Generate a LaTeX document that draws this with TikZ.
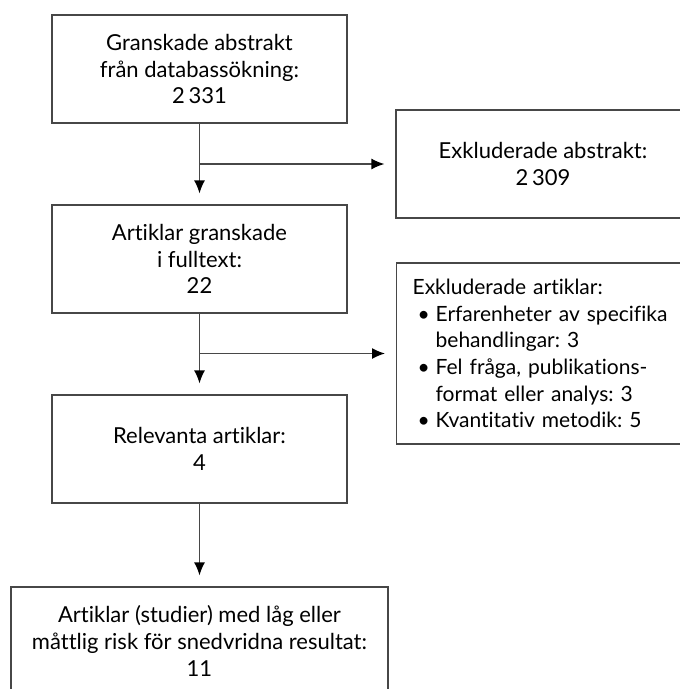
\documentclass[tikz,border=0pt]{standalone}
\usepackage{fontspec}
\setmainfont{Lato}[Ligatures={NoCommon}]
\usetikzlibrary{arrows.meta}
\frenchspacing
\begin{document}
\begin{tikzpicture}[x=1pt,y=-1pt,
  box/.style={draw=black!72, line width=1.3pt, minimum width=295pt, minimum height=108pt,
    inner sep=0pt, align=center, font=\fontsize{22}{26.7}\selectfont},
  listbox/.style={box, align=left, text width=290pt, inner xsep=16pt, font=\fontsize{21}{26.7}\selectfont},
  arr/.style={draw=black!72, line width=1.3pt, -{Latex[length=13pt,width=11pt,fill=black,color=black]}, shorten >=11pt}]
\useasboundingbox (0,0) rectangle (680,689);
\clip (0,0) rectangle (680,689);
\node[box] (b1) at (199.5,69) {Granskade abstrakt\\från databassökning:\\2\,331};
\node[box] (b2) at (199.5,259) {Artiklar granskade\\i fulltext:\\22};
\node[box] (b3) at (199.5,449) {Relevanta artiklar:\\4};
\node[box, minimum width=377pt] (b4) at (199.5,641) {Artiklar (studier) med låg eller\\måttlig risk för snedvridna resultat:\\11};
\node[box, minimum width=294pt] (e1) at (543,164) {Exkluderade abstrakt:\\2\,309};
\node[listbox, minimum height=181pt, anchor=west] (e2) at (396,353.5) {Exkluderade artiklar:\\
\hspace*{5pt}\makebox[18pt][l]{•}Erfarenheter av specifika\\
\hspace*{23pt}behandlingar: 3\\
\hspace*{5pt}\makebox[18pt][l]{•}Fel fråga, publikations-\\
\hspace*{23pt}format eller analys: 3\\
\hspace*{5pt}\makebox[18pt][l]{•}Kvantitativ metodik: 5};
\draw[arr] (b1) -- (b2);
\draw[arr] (b1.south |- e1.west) -- (e1.west);
\draw[arr] (b2) -- (b3);
\draw[arr] (b2.south |- e2.west) -- (e2.west);
\draw[arr] (b3) -- (b4);
\end{tikzpicture}
\end{document}
